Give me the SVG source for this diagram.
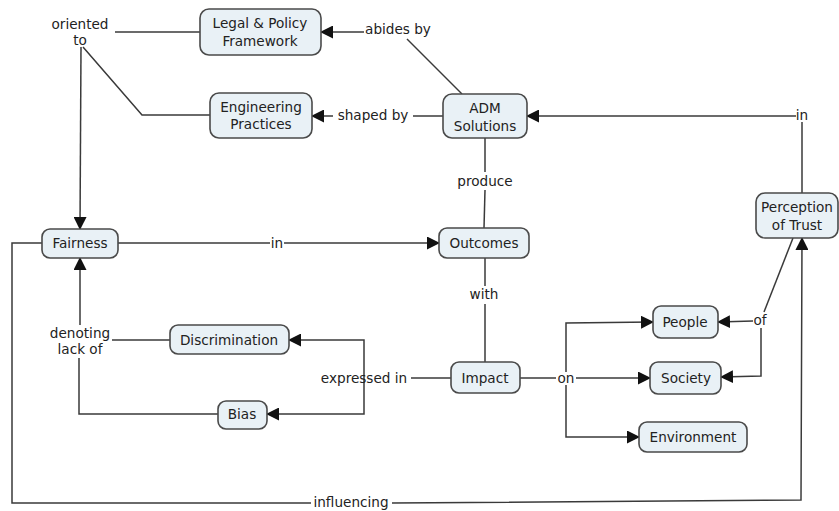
<svg xmlns="http://www.w3.org/2000/svg" width="839" height="511" viewBox="0 0 839 511">
<style>
.n rect{fill:#e9f1f6;stroke:#4a4a4a;stroke-width:1.6}
text{font-family:"DejaVu Sans",Verdana,sans-serif;font-size:13.6px;fill:#222;text-anchor:middle}
.c path{fill:none;stroke:#3a3a3a;stroke-width:1.5}
.c path.a{marker-end:url(#ah)}
</style>
<defs>
<marker id="ah" markerWidth="13" markerHeight="13" refX="12" refY="6.5" orient="auto" markerUnits="userSpaceOnUse">
<path d="M0,0 L13,6.5 L0,13z" fill="#111"/>
</marker>
</defs>
<rect width="839" height="511" fill="#fff"/>
<g class="c" id="connectors">
<!-- abides by -->
<path d="M462,94 L407,39"/>
<path class="a" d="M364,32 L321,32"/>
<!-- shaped by -->
<path d="M443,116 L413,116"/>
<path class="a" d="M333,116 L312,116"/>
<!-- oriented to -->
<path d="M200,32 L115,32"/>
<path d="M210,115 L142,115 L83,47"/>
<path class="a" d="M81,47 L80,229"/>
<!-- produce -->
<path d="M485,138 L485,172"/>
<path d="M485,190 L484,228"/>
<!-- in (fairness→outcomes) -->
<path d="M118,243 L270,243"/>
<path class="a" d="M284,243 L439,243"/>
<!-- with -->
<path d="M485,258 L485,286"/>
<path d="M485,304 L485,362"/>
<!-- expressed in -->
<path d="M451,378 L411,378"/>
<path class="a" d="M364,378 L364,340 L289,340"/>
<path class="a" d="M364,378 L364,414 L267,414"/>
<!-- denoting lack of -->
<path d="M170,340 L112,340"/>
<path d="M218,414 L79,414 L79,358"/>
<path class="a" d="M80,325 L80,258"/>
<!-- on -->
<path d="M520,378 L556,378"/>
<path class="a" d="M576,378 L650,378"/>
<path class="a" d="M566,372 L566,323 L653,322"/>
<path class="a" d="M566,385 L566,437 L639,437"/>
<!-- of -->
<path d="M793,238 L764,312"/>
<path class="a" d="M753,321 L718,322"/>
<path class="a" d="M761,328 L761,376 L721,377"/>
<!-- influencing -->
<path d="M42,243 L12,243 L12,503 L311,503"/>
<path class="a" d="M392,503 L801,500 L802,238"/>
<!-- in (trust→ADM) -->
<path d="M802,193 L802,122"/>
<path class="a" d="M796,116 L527,116"/>
</g>
<g id="legal" class="n"><rect x="200" y="9" width="121" height="46" rx="9"/><text x="260" y="28">Legal &amp; Policy</text><text x="260" y="46">Framework</text></g>
<g id="engineering" class="n"><rect x="210" y="93" width="102" height="45" rx="9"/><text x="261" y="112">Engineering</text><text x="261" y="129">Practices</text></g>
<g id="adm" class="n"><rect x="443" y="94" width="84" height="44" rx="9"/><text x="485" y="113">ADM</text><text x="485" y="131">Solutions</text></g>
<g id="trust" class="n"><rect x="756" y="193" width="82" height="45" rx="9"/><text x="797" y="212">Perception</text><text x="797" y="230">of Trust</text></g>
<g id="fairness" class="n"><rect x="42" y="229" width="76" height="29" rx="8"/><text x="80" y="248">Fairness</text></g>
<g id="outcomes" class="n"><rect x="439" y="228" width="90" height="30" rx="8"/><text x="484" y="248">Outcomes</text></g>
<g id="discrimination" class="n"><rect x="170" y="325" width="119" height="29" rx="8"/><text x="229" y="345">Discrimination</text></g>
<g id="bias" class="n"><rect x="218" y="401" width="49" height="28" rx="8"/><text x="242" y="419">Bias</text></g>
<g id="impact" class="n"><rect x="451" y="362" width="69" height="31" rx="8"/><text x="485" y="383">Impact</text></g>
<g id="people" class="n"><rect x="653" y="306" width="65" height="32" rx="8"/><text x="685" y="327">People</text></g>
<g id="society" class="n"><rect x="650" y="362" width="71" height="32" rx="8"/><text x="686" y="383">Society</text></g>
<g id="environment" class="n"><rect x="639" y="422" width="108" height="30" rx="8"/><text x="693" y="442">Environment</text></g>
<g id="labels">
<text x="80" y="29">oriented</text><text x="80" y="45">to</text>
<text x="398" y="34">abides by</text>
<text x="373" y="120">shaped by</text>
<text x="485" y="186">produce</text>
<text x="277" y="248">in</text>
<text x="484" y="299">with</text>
<text x="364" y="383">expressed in</text>
<text x="80" y="338">denoting</text><text x="80" y="354">lack of</text>
<text x="566" y="383">on</text>
<text x="760" y="325">of</text>
<text x="802" y="120">in</text>
<text x="351" y="507">influencing</text>
</g>
</svg>
